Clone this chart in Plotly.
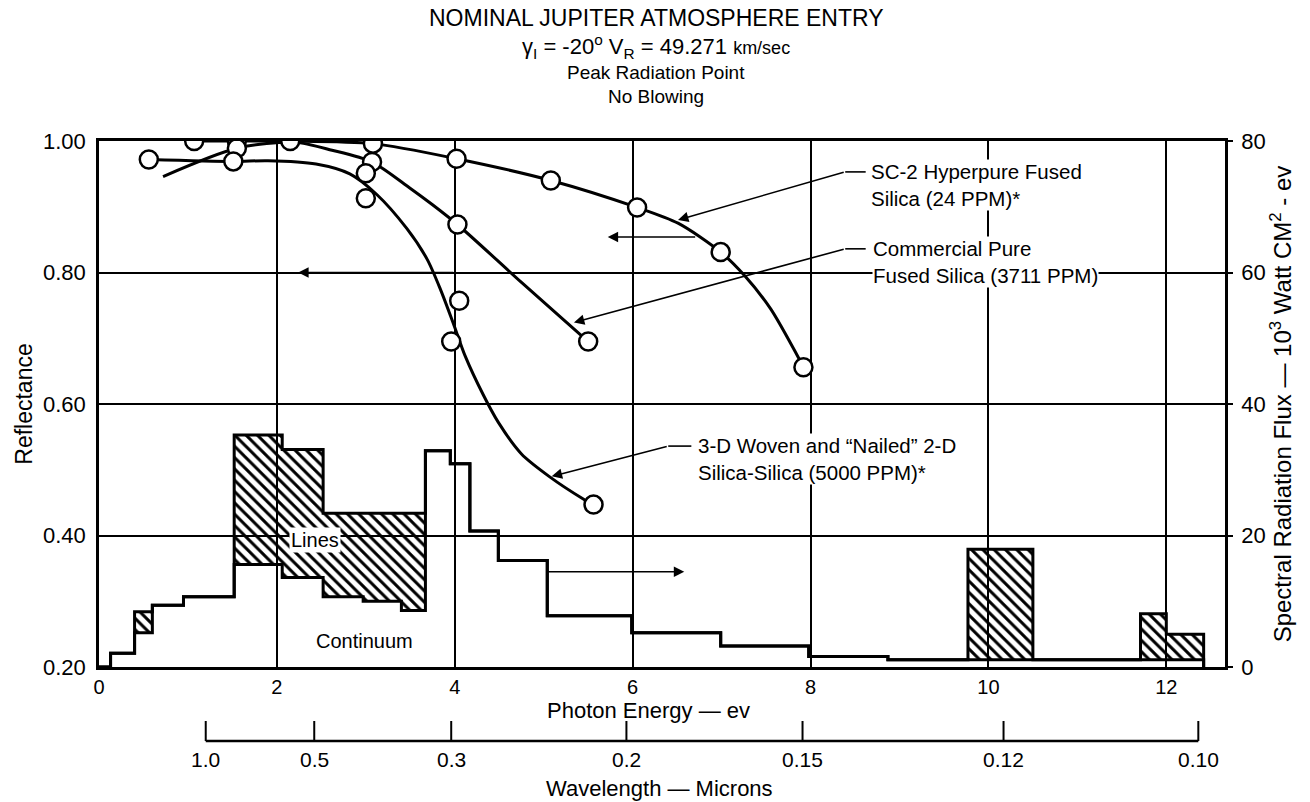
import plotly.graph_objects as go

FONT = "Liberation Sans, Arial, Helvetica, sans-serif"

# ---------------- Reflectance data (left axis) ----------------
# SC-2 Hyperpure fused silica: measured points and faired curve
sc2_pts_ev = [1.07, 1.55, 2.15, 3.08, 4.02, 5.08, 6.05, 6.99, 7.92]
sc2_pts_r = [1.000, 1.000, 1.000, 0.996, 0.973, 0.940, 0.899, 0.831, 0.656]
sc2_curve_ev = [1.07, 1.55, 2.15, 3.08, 4.02, 5.08, 6.05, 6.51, 6.99, 7.26, 7.55, 7.81, 7.92]
sc2_curve_r = [1.000, 1.000, 1.000, 0.996, 0.973, 0.940, 0.899, 0.875, 0.831, 0.795, 0.745, 0.684, 0.656]

# Commercial pure fused silica
com_pts_ev = [1.55, 3.07, 4.03, 5.50]
com_pts_r = [0.989, 0.968, 0.873, 0.695]
com_curve_ev = [0.72, 1.55, 2.20, 2.62, 3.07, 3.49, 3.75, 4.03, 4.75, 5.50]
com_curve_r = [0.946, 0.989, 0.998, 0.986, 0.968, 0.929, 0.903, 0.873, 0.785, 0.695]

# 3-D woven and "nailed" 2-D silica-silica
w3d_pts_ev = [0.56, 1.51, 3.00, 3.00, 3.96, 4.05, 5.56]
w3d_pts_r = [0.972, 0.969, 0.951, 0.913, 0.695, 0.757, 0.447]
w3d_curve_ev = [0.56, 1.51, 1.90, 2.44, 2.82, 3.12, 3.46, 3.69, 3.84, 3.98, 4.12, 4.32, 4.49, 4.75, 5.06, 5.44, 5.56]
w3d_curve_r = [0.972, 0.969, 0.970, 0.965, 0.950, 0.919, 0.867, 0.820, 0.774, 0.724, 0.672, 0.614, 0.572, 0.524, 0.490, 0.456, 0.447]

# ---------------- Spectral radiation flux (right axis) ----------------
flux_edges = [0, 0.13, 0.40, 0.60, 0.95, 1.52, 2.06, 2.52, 2.97, 3.40, 3.67, 3.95,
              4.17, 4.49, 5.04, 5.99, 6.99, 7.98, 8.87, 9.77, 10.50, 11.71, 12.00, 12.42]
continuum_flux = [0, 2.1, 5.2, 9.4, 10.7, 15.6, 13.6, 10.7, 10.0, 8.6, 32.9, 30.9,
                  20.7, 16.2, 7.8, 5.2, 3.2, 1.6, 1.1, 1.1, 1.1, 1.1, 1.1]
line_flux = [0, 0, 3.2, 0, 0, 19.7, 19.5, 12.7, 13.4, 14.8, 0, 0,
             0, 0, 0, 0, 0, 0, 0, 16.8, 0, 7.0, 3.9]

# ---------------- Axis tick labels ----------------
energy_ticks = [0, 2, 4, 6, 8, 10, 12]
refl_ticks = [0.20, 0.40, 0.60, 0.80, 1.00]
refl_labels = ["0.20", "0.40", "0.60", "0.80", "1.00"]
flux_ticks = [0, 20, 40, 60, 80]
wavelength_labels = ["1.0", "0.5", "0.3", "0.2", "0.15", "0.12", "0.10"]
wavelength_tick_ev = [1.20, 2.42, 3.96, 5.93, 7.91, 10.17, 12.36]

E_MAX = 12.66
PAPER_H = 600.0  # height of the paper area in px (used for the wavelength scale)

# step outlines: one value per bin, closed with a drop to zero at the last edge
cont_step = continuum_flux + [0]
total_step = [c + l for c, l in zip(continuum_flux, line_flux)] + [0]

fig = go.Figure()

# continuum spectrum
fig.add_trace(go.Scatter(
    x=flux_edges, y=cont_step, yaxis="y2", mode="lines",
    line=dict(color="black", width=3, shape="hv"), hoverinfo="skip", showlegend=False))
# line radiation, hatched between continuum and total
fig.add_trace(go.Scatter(
    x=flux_edges, y=total_step, yaxis="y2", mode="lines",
    line=dict(color="black", width=3, shape="hv"),
    fill="tonexty", fillcolor="rgba(0,0,0,0)",
    fillpattern=dict(shape="\\", fgcolor="black", bgcolor="rgba(0,0,0,0)",
                     size=8, solidity=0.38, fillmode="replace"),
    hoverinfo="skip", showlegend=False))

# reflectance curves
for cx, cy in [(sc2_curve_ev, sc2_curve_r), (com_curve_ev, com_curve_r), (w3d_curve_ev, w3d_curve_r)]:
    fig.add_trace(go.Scatter(
        x=cx, y=cy, mode="lines",
        line=dict(color="black", width=3, shape="spline", smoothing=0.8),
        hoverinfo="skip", showlegend=False))

for px, py in [(sc2_pts_ev, sc2_pts_r), (com_pts_ev, com_pts_r), (w3d_pts_ev, w3d_pts_r)]:
    fig.add_trace(go.Scatter(
        x=px, y=py, mode="markers",
        marker=dict(symbol="circle", size=18, color="white", line=dict(color="black", width=2.5)),
        hoverinfo="skip", showlegend=False))

annotations = []

# title block
title_lines = [
    ("NOMINAL JUPITER ATMOSPHERE ENTRY", (741 - 18) / PAPER_H, 23),
    ("γ<sub>I</sub> = -20<sup>o</sup> V<sub>R</sub> = 49.271 <span style='font-size:18px'>km/sec</span>",
     (741 - 47) / PAPER_H, 22),
    ("Peak Radiation Point", (741 - 72) / PAPER_H, 19),
    ("No Blowing", (741 - 96) / PAPER_H, 19),
]
for txt, yy, sz in title_lines:
    annotations.append(dict(text=txt, x=0.4947, y=yy, xref="paper", yref="paper",
                            xanchor="center", yanchor="middle", showarrow=False,
                            font=dict(family=FONT, size=sz, color="black")))

# curve labels
label_font = dict(family=FONT, size=20.5, color="black")
annotations += [
    dict(text="SC-2 Hyperpure Fused<br>Silica (24 PPM)*", x=8.67, y=0.933, xref="x", yref="y",
         xanchor="left", yanchor="middle", align="left", showarrow=False,
         bgcolor="white", borderpad=0, font=label_font),
    dict(text="Commercial Pure<br>Fused Silica (3711 PPM)", x=8.69, y=0.8155, xref="x", yref="y",
         xanchor="left", yanchor="middle", align="left", showarrow=False,
         bgcolor="white", borderpad=0, font=label_font),
    dict(text="3-D Woven and “Nailed” 2-D<br>Silica-Silica (5000 PPM)*", x=6.72, y=0.516, xref="x", yref="y",
         xanchor="left", yanchor="middle", align="left", showarrow=False,
         bgcolor="white", borderpad=0, font=label_font),
    dict(text="Lines", x=2.43, y=19.3, xref="x", yref="y2", xanchor="center", yanchor="middle",
         showarrow=False, bgcolor="white", borderpad=1, font=dict(family=FONT, size=20, color="black")),
    dict(text="Continuum", x=2.99, y=3.9, xref="x", yref="y2", xanchor="center", yanchor="middle",
         showarrow=False, font=dict(family=FONT, size=20, color="black")),
    # energy-axis and wavelength-scale titles
    dict(text="Photon Energy — ev", x=0.488, y=31 / PAPER_H, xref="paper", yref="paper",
         xanchor="center", yanchor="middle", showarrow=False,
         font=dict(family=FONT, size=22, color="black")),
    dict(text="Wavelength — Microns", x=0.498, y=-47 / PAPER_H, xref="paper", yref="paper",
         xanchor="center", yanchor="middle", showarrow=False,
         font=dict(family=FONT, size=22, color="black")),
]

# wavelength scale tick labels, placed at their photon energies
for ev, lab in zip(wavelength_tick_ev, wavelength_labels):
    annotations.append(dict(text=lab, x=ev, y=-18 / PAPER_H, xref="x", yref="paper",
                            xanchor="center", yanchor="middle", showarrow=False,
                            font=dict(family=FONT, size=21, color="black")))

# leader arrows (tail -> head)
arrow_style = dict(text="", showarrow=True, arrowhead=2, arrowsize=1.3, arrowwidth=1.6,
                   arrowcolor="black")
arrows = [
    ((8.39, 0.953), (6.51, 0.880), "y"),   # to SC-2 curve
    ((8.39, 0.836), (5.34, 0.724), "y"),   # to commercial curve
    ((6.40, 0.536), (5.09, 0.490), "y"),   # to 3-D curve
    ((4.00, 0.800), (2.24, 0.800), "y"),   # curves read on left axis
    ((6.72, 0.854), (5.72, 0.854), "y"),
    ((5.03, 14.5), (6.58, 14.5), "y2"),    # spectrum read on right axis
]
for (tx, ty), (hx, hy), yr in arrows:
    annotations.append(dict(x=hx, y=hy, ax=tx, ay=ty, xref="x", yref=yr, axref="x", ayref=yr,
                            **arrow_style))

shapes = []
# short horizontal lead-ins next to the labels
for x0, x1, yy in [(8.39, 8.62, 0.953), (8.39, 8.62, 0.836), (6.40, 6.66, 0.536)]:
    shapes.append(dict(type="line", x0=x0, x1=x1, y0=yy, y1=yy, xref="x", yref="y",
                       line=dict(color="black", width=1.6)))

# wavelength scale: base line with upward ticks
shapes.append(dict(type="line", x0=wavelength_tick_ev[0], x1=wavelength_tick_ev[-1], y0=0, y1=0,
                   xref="x", yref="paper", line=dict(color="black", width=2.5)))
for ev in wavelength_tick_ev:
    shapes.append(dict(type="line", x0=ev, x1=ev, y0=0, y1=20 / PAPER_H,
                       xref="x", yref="paper", line=dict(color="black", width=2)))

tick_font = dict(family=FONT, size=22, color="black")

fig.update_layout(
    width=1310, height=802,
    margin=dict(l=99, r=85, t=141, b=61),
    paper_bgcolor="white", plot_bgcolor="white",
    showlegend=False,
    annotations=annotations,
    shapes=shapes,
    xaxis=dict(range=[0, E_MAX], tickvals=energy_ticks, ticktext=[str(v) for v in energy_ticks],
               showgrid=True, gridcolor="black", gridwidth=1.6, zeroline=False,
               showline=True, linecolor="black", linewidth=2.5, mirror=True,
               ticks="", ticklabelstandoff=0, tickfont=dict(family=FONT, size=20, color="black")),
    yaxis=dict(range=[0.2, 1.0], domain=[0.1233, 1.0], tickvals=refl_ticks, ticktext=refl_labels,
               showgrid=True, gridcolor="black", gridwidth=1.6, zeroline=False,
               showline=True, linecolor="black", linewidth=2.5,
               ticks="", ticklabelstandoff=6, tickfont=tick_font,
               title=dict(text="Reflectance", font=dict(family=FONT, size=23, color="black"), standoff=4)),
    yaxis2=dict(overlaying="y", side="right", range=[0, 80], tickvals=flux_ticks,
                showgrid=False, zeroline=False, showline=True, linecolor="black", linewidth=2.5,
                ticks="outside", ticklen=5, tickwidth=2, tickcolor="black",
                ticklabelstandoff=4, tickfont=tick_font,
                title=dict(text="Spectral Radiation Flux — 10<sup>3</sup> Watt CM<sup>2</sup> - ev",
                           font=dict(family=FONT, size=24, color="black"), standoff=8)),
)

fig.write_html("out.html")
